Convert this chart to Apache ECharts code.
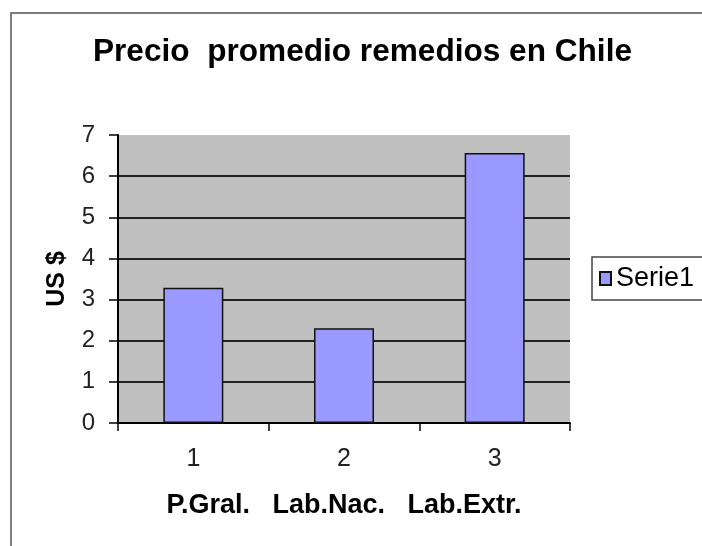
<!DOCTYPE html>
<html>
<head>
<meta charset="utf-8">
<script src="https://cdn.jsdelivr.net/npm/echarts@6/dist/echarts.min.js"></script>
<style>
  html, body { margin: 0; padding: 0; background: #fff; }
  #chart { width: 702px; height: 546px; }
</style>
</head>
<body>
<div id="chart"></div>
<script>
// values
var categories = ['1', '2', '3']
var serie1 = [3.29, 2.3, 6.56]
var yTicks = { min: 0, max: 7, interval: 1 }

var chart = echarts.init(document.getElementById('chart'))

chart.setOption({
  backgroundColor: '#FFFFFF',
  animation: false,
  textStyle: { fontFamily: 'Liberation Sans, Arial, sans-serif' },
  graphic: [
    {
      // outer chart frame, runs off the right and bottom edges
      type: 'rect',
      silent: true,
      z: -10,
      shape: { x: 11, y: 13, width: 760, height: 600 },
      style: { fill: 'none', stroke: '#555', lineWidth: 1.5 }
    }
  ],
  title: {
    text: 'Precio  promedio remedios en Chile',
    left: 88,
    top: 31,
    textStyle: {
      fontFamily: 'Liberation Sans, Arial, sans-serif',
      fontSize: 31.6,
      fontWeight: 'bold',
      color: '#000'
    }
  },
  legend: {
    data: ['Serie1'],
    left: 592,
    top: 257,
    orient: 'vertical',
    padding: [8, 12, 8, 7],
    borderColor: '#444',
    borderWidth: 1.5,
    itemWidth: 11,
    itemHeight: 13,
    icon: 'rect',
    textStyle: {
      fontFamily: 'Liberation Sans, Arial, sans-serif',
      fontSize: 27,
      color: '#000'
    }
  },
  grid: {
    left: 118,
    top: 135,
    right: 132,
    bottom: 123,
    show: true,
    backgroundColor: '#C0C0C0',
    borderWidth: 0
  },
  xAxis: {
    type: 'category',
    data: categories,
    name: 'P.Gral.   Lab.Nac.   Lab.Extr.',
    nameLocation: 'middle',
    nameGap: 69,
    nameTextStyle: {
      fontFamily: 'Liberation Sans, Arial, sans-serif',
      fontSize: 27,
      fontWeight: 'bold',
      color: '#000'
    },
    axisLine: { lineStyle: { color: '#000', width: 2 } },
    axisTick: { show: true, length: 8, lineStyle: { color: '#000', width: 1.5 } },
    axisLabel: {
      margin: 24,
      fontSize: 25,
      color: '#222'
    }
  },
  yAxis: {
    type: 'value',
    min: yTicks.min,
    max: yTicks.max,
    interval: yTicks.interval,
    name: 'US $',
    nameLocation: 'middle',
    nameGap: 48,
    nameTextStyle: {
      fontFamily: 'Liberation Sans, Arial, sans-serif',
      fontSize: 25,
      fontWeight: 'bold',
      color: '#000'
    },
    axisLine: { show: true, lineStyle: { color: '#000', width: 2 } },
    axisTick: { show: true, length: 9, lineStyle: { color: '#000', width: 1.5 } },
    axisLabel: {
      margin: 23,
      fontSize: 24,
      color: '#222'
    },
    splitLine: {
      show: true,
      showMinLine: false,
      showMaxLine: false,
      lineStyle: { color: '#222', width: 2 }
    }
  },
  series: [
    {
      name: 'Serie1',
      type: 'bar',
      data: serie1,
      barWidth: 60,
      itemStyle: {
        color: '#9999FF',
        borderColor: '#111',
        borderWidth: 1.5
      }
    }
  ]
})
</script>
</body>
</html>
